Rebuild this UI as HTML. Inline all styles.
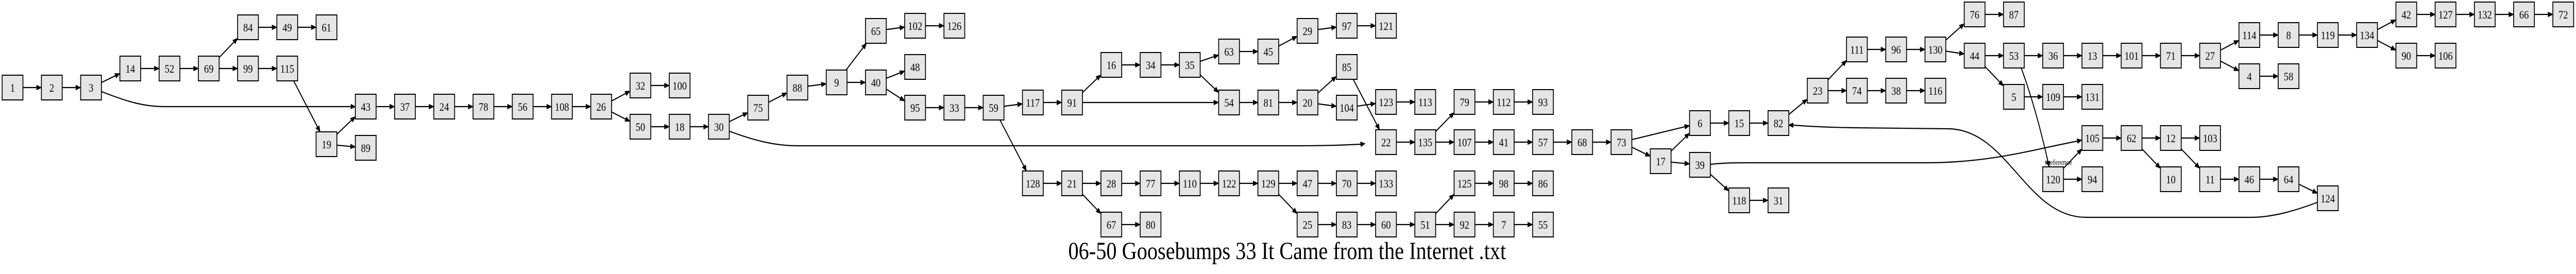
<!DOCTYPE html>
<html><head><meta charset="utf-8">
<style>
html,body{margin:0;padding:0;background:#fff;width:100%;height:100%;overflow:hidden;}
svg{display:block;position:fixed;left:0;top:0;width:100vw;height:100vh;}
text{font-family:"Liberation Serif","Times New Roman",serif;}
</style></head>
<body>
<svg id="g" xmlns="http://www.w3.org/2000/svg" viewBox="0 0 5952 532" preserveAspectRatio="none">
<rect width="5952" height="532" fill="#fff"/>
<g id="edges" stroke="#000" stroke-width="2.2" fill="none"></g>
<g id="arrows" fill="#000" stroke="#000" stroke-width="1"></g>
<g id="nodes"></g>
<text x="4756" y="320" font-size="15" text-anchor="middle">#reference</text>
<text x="2974" y="503" font-size="48" text-anchor="middle">06-50 Goosebumps 33 It Came from the Internet .txt</text>
</svg>
<script>
var N={1:[0,170],2:[1,170],3:[2,170],14:[3,133],52:[4,133],69:[5,133],84:[6,53],99:[6,133],49:[7,53],61:[8,53],115:[7,133],19:[8,280],43:[9,207],89:[9,287],37:[10,207],24:[11,207],78:[12,207],56:[13,207],108:[14,207],26:[15,207],32:[16,166],50:[16,246],100:[17,166],18:[17,246],30:[18,246],75:[19,209],88:[20,170],9:[21,160],65:[22,60],40:[22,160],102:[23,50],126:[24,50],48:[23,130],95:[23,209],33:[24,209],59:[25,209],117:[26,199],91:[27,199],128:[26,356],21:[27,356],16:[28,126],34:[29,126],35:[30,126],63:[31,100],45:[32,100],29:[33,60],97:[34,50],121:[35,50],54:[31,199],81:[32,199],20:[33,199],85:[34,130],104:[34,209],123:[35,198],113:[36,198],22:[35,276],135:[36,276],79:[37,198],112:[38,198],93:[39,198],107:[37,276],41:[38,276],57:[39,276],68:[40,276],73:[41,276],28:[28,356],77:[29,356],110:[30,356],122:[31,356],129:[32,356],47:[33,356],70:[34,356],133:[35,356],125:[37,356],98:[38,356],86:[39,356],67:[28,436],80:[29,436],25:[33,436],83:[34,436],60:[35,436],51:[36,436],92:[37,436],7:[38,436],55:[39,436],17:[42,313],6:[43,239],39:[43,320],15:[44,239],82:[45,239],118:[44,389],31:[45,389],23:[46,176],111:[47,96],96:[48,96],130:[49,96],74:[47,176],38:[48,176],116:[49,176],76:[50,28],87:[51,28],44:[50,108],53:[51,108],36:[52,108],13:[53,108],101:[54,108],71:[55,108],5:[51,188],109:[52,188],131:[53,188],105:[53,268],62:[54,268],12:[55,268],10:[55,348],120:[52,348],94:[53,348],27:[56,108],114:[57,68],8:[58,68],119:[59,68],134:[60,68],4:[57,148],58:[58,148],103:[56,268],11:[56,348],46:[57,348],64:[58,348],124:[59,385],42:[61,28],127:[62,28],132:[63,28],66:[64,28],72:[65,28],90:[61,108],106:[62,108]};
var E="1-2 2-3 3-14 14-52 52-69 69-84 69-99 84-49 49-61 99-115 115-19 19-43 19-89 43-37 37-24 24-78 78-56 56-108 108-26 26-32 26-50 32-100 50-18 18-30 30-75 75-88 88-9 9-65 9-40 65-102 102-126 40-48 40-95 95-33 33-59 59-117 59-128 117-91 91-16 91-54 16-34 34-35 35-63 35-54 63-45 45-29 29-97 97-121 54-81 81-20 20-85 20-104 85-22 104-123 123-113 22-135 135-79 135-107 79-112 112-93 107-41 41-57 57-68 68-73 73-6 73-17 17-6 17-39 6-15 15-82 39-118 118-31 82-23 23-111 23-74 111-96 96-130 74-38 38-116 130-76 130-44 76-87 44-53 44-5 53-36 36-13 13-101 101-71 71-27 27-114 27-4 114-8 8-119 119-134 134-42 134-90 42-127 127-132 132-66 66-72 90-106 4-58 5-109 109-131 120-105 120-94 105-62 62-12 62-10 12-103 12-11 11-46 46-64 64-124 128-21 21-28 21-67 28-77 77-110 110-122 122-129 129-47 129-25 47-70 70-133 67-80 25-83 83-60 60-51 51-125 51-92 125-98 98-86 92-7 7-55".split(" ");
var NS="http://www.w3.org/2000/svg";
function cx(k){return 29+N[k][0]*90.67;}
function cy(k){return N[k][1];}
var eg=document.getElementById("edges"),ag=document.getElementById("arrows"),ng=document.getElementById("nodes");
function el(t,a,p){var e=document.createElementNS(NS,t);for(var k in a)e.setAttribute(k,a[k]);p.appendChild(e);return e;}
function arrow(bx,by,tx,ty){var dx=tx-bx,dy=ty-by,l=Math.hypot(dx,dy),ux=dx/l,uy=dy/l;var px=-uy,py=ux,w=4.5;
 el("polygon",{points:(tx)+","+(ty)+" "+(bx+px*w)+","+(by+py*w)+" "+(bx-px*w)+","+(by-py*w)},ag);}
E.forEach(function(s){var p=s.split("-"),a=p[0],b=p[1];
 var x1=cx(a),y1=cy(a),x2=cx(b),y2=cy(b),dx=x2-x1,dy=y2-y1;
 var t=Math.min(dx?24/Math.abs(dx):1e9,dy?24/Math.abs(dy):1e9);
 var sx=x1+dx*t,sy=y1+dy*t,ex=x2-dx*t,ey=y2-dy*t;
 var l=Math.hypot(ex-sx,ey-sy),ux=(ex-sx)/l,uy=(ey-sy)/l;
 var bx=ex-ux*11,by=ey-uy*11;
 el("path",{d:"M"+sx+","+sy+" L"+bx+","+by},eg);arrow(bx,by,ex,ey);});
var C=[
 ["M235,178 C290,196 330,207 380,207 L811,207",811,207,821,207],
 ["M1686,255 C1740,272 1790,283 1840,283 L3000,283 C3080,283 3120,281 3144,280",3144,280,3154,279],
 ["M3952,319 C3990,316 4000,316 4050,316 L4450,316 C4600,316 4700,290 4800,274",4800,274,4810,272],
 ["M5354,393 C5300,410 5250,422 5200,422 L4820,422 C4680,422 4640,250 4500,250 L4280,248 C4200,247 4160,244 4143,243",4143,243,4133,243],
 ["M4670,132 C4700,200 4720,270 4732,314",4732,314,4735,324]
];
C.forEach(function(c){el("path",{d:c[0]},eg);arrow(c[1],c[2],c[3],c[4]);});
for(var k in N){var x=cx(k),y=cy(k);
 el("rect",{x:x-24,y:y-24,width:48,height:48,fill:"#e5e5e5",stroke:"#000","stroke-width":2},ng);
 var t=el("text",{x:x,y:y+8,"font-size":22,"text-anchor":"middle"},ng);t.textContent=k;}
</script>
</body></html>
